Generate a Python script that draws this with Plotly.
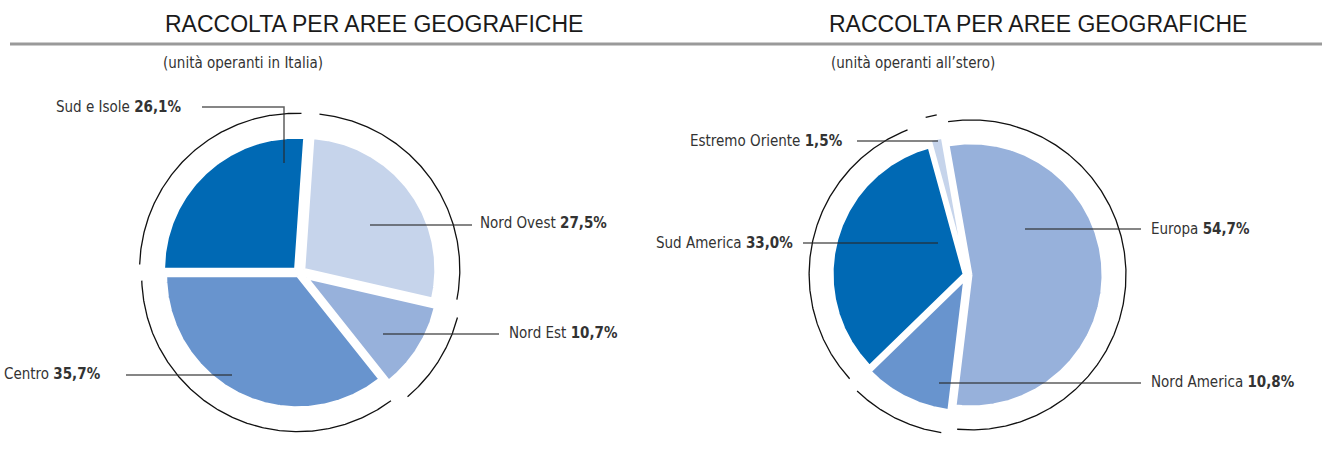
import numpy as np
import plotly.graph_objects as go

# ---------------- data ----------------
left_labels = ["Sud e Isole", "Nord Ovest", "Nord Est", "Centro"]
left_values = [26.1, 27.5, 10.7, 35.7]
right_labels = ["Europa", "Nord America", "Sud America", "Estremo Oriente"]
right_values = [54.7, 10.8, 33.0, 1.5]
titles = ["RACCOLTA PER AREE GEOGRAFICHE", "RACCOLTA PER AREE GEOGRAFICHE"]
subtitles = ["(unità operanti in Italia)", "(unità operanti all’stero)"]

# ---------------- styles / layout ----------------
DARK, LIGHT, MIDL, MID = "#0069B4", "#C6D4EB", "#97B1DB", "#6894CE"
FONT = "Liberation Sans Narrow, DejaVu Sans Condensed, Arial Narrow, sans-serif"
TFONT = "Liberation Sans, Arial, sans-serif"
TXT = "#333333"
LEAD = "rgba(40,40,40,0.75)"

pies = [
    dict(labels=left_labels, values=left_values, colors=[DARK, LIGHT, MIDL, MID],
         cx=299, cy=273, r=132, R=156, start=270, pulls=[5, 6, 9, 3],
         gaps=[(1.8, 1.8), (1.8, 1.8), (1.8, 1.8), (1.8, 1.8)],
         lab=[dict(x=183, y=107, side="right", path=[(202, 107), (284, 107), (284, 163)]),
              dict(x=478, y=223, side="left", path=[(370, 225), (472, 225)]),
              dict(x=507, y=333, side="left", path=[(383, 334), (499, 334)]),
              dict(x=103, y=374, side="right", path=[(126, 375), (232, 375)])]),
    dict(labels=right_labels, values=right_values, colors=[MIDL, MID, DARK, LIGHT],
         cx=967, cy=275, r=132, R=155, start=-10, pulls=[4, 5, 3, 8],
         gaps=[(1.5, 1.8), (1.8, 1.8), (1.8, 6.0), (0.6, 0.6)],
         lab=[dict(x=1149, y=229, side="left", path=[(1025, 229), (1141, 229)]),
              dict(x=1149, y=382, side="left", path=[(939, 383), (1141, 383)]),
              dict(x=795, y=243, side="right", path=[(803, 243), (938, 243)]),
              dict(x=845, y=141, side="right", path=[(857, 141), (938, 141)])]),
]
title_x = [374, 1038]
sub_x = [161, 829]

fig = go.Figure()


def pt(cx, cy, rad, th_deg):
    th = np.radians(th_deg)
    return cx + rad * np.sin(th), cy - rad * np.cos(th)


annotations = []
for p in pies:
    vals = np.array(p["values"], dtype=float)
    fr = vals / vals.sum() * 360.0
    a0 = p["start"] + np.concatenate([[0], np.cumsum(fr)[:-1]])
    a1 = a0 + fr
    for i in range(len(vals)):
        mid = (a0[i] + a1[i]) / 2
        ox, oy = pt(0, 0, p["pulls"][i], mid)
        cx, cy = p["cx"] + ox, p["cy"] + oy
        th = np.linspace(a0[i], a1[i], max(8, int(fr[i] * 2)))
        ax, ay = pt(cx, cy, p["r"], th)
        xs = np.concatenate([[cx], ax, [cx]])
        ys = np.concatenate([[cy], ay, [cy]])
        fig.add_trace(go.Scatter(x=xs, y=ys, mode="lines", fill="toself",
                                 fillcolor=p["colors"][i],
                                 line=dict(color="white", width=3),
                                 hoverinfo="skip", showlegend=False))
        # outer ring arc
        g0, g1 = p["gaps"][i]
        th2 = np.linspace(a0[i] + g0, a1[i] - g1, max(8, int(fr[i] * 2)))
        rx, ry = pt(cx, cy, p["R"], th2)
        fig.add_trace(go.Scatter(x=rx, y=ry, mode="lines",
                                 line=dict(color="#111111", width=1.3),
                                 hoverinfo="skip", showlegend=False))
    # leader lines and labels
    for i, lab in enumerate(p["lab"]):
        px_, py_ = zip(*lab["path"])
        fig.add_trace(go.Scatter(x=list(px_), y=list(py_), mode="lines",
                                 line=dict(color=LEAD, width=1.5),
                                 hoverinfo="skip", showlegend=False))
        vtxt = f"{p['values'][i]:.1f}".replace(".", ",") + "%"
        annotations.append(dict(x=lab["x"], y=lab["y"], xref="x", yref="y",
                                text=f"{p['labels'][i]} <b>{vtxt}</b>",
                                showarrow=False, xanchor=lab["side"], yanchor="middle",
                                font=dict(family=FONT, size=15, color=TXT)))

for k in range(2):
    annotations.append(dict(x=title_x[k], y=24, xref="x", yref="y", text=titles[k],
                            showarrow=False, xanchor="center", yanchor="middle",
                            font=dict(family=TFONT, size=23, color="#1a1a1a")))
    annotations.append(dict(x=sub_x[k], y=63, xref="x", yref="y", text=subtitles[k],
                            showarrow=False, xanchor="left", yanchor="middle",
                            font=dict(family=FONT, size=15, color=TXT)))

fig.update_layout(
    width=1322, height=468, margin=dict(l=0, r=0, t=0, b=0),
    paper_bgcolor="white", plot_bgcolor="white",
    xaxis=dict(range=[0, 1322], visible=False, fixedrange=True),
    yaxis=dict(range=[468, 0], visible=False, fixedrange=True),
    annotations=annotations,
    shapes=[dict(type="line", xref="x", yref="y", x0=10, x1=1322, y0=44, y1=44,
                 line=dict(color="#9a9a9a", width=3))],
)

fig.write_html("out.html", config={"displayModeBar": False},
               post_script="document.body.style.margin='0';document.body.style.overflow='hidden';")
